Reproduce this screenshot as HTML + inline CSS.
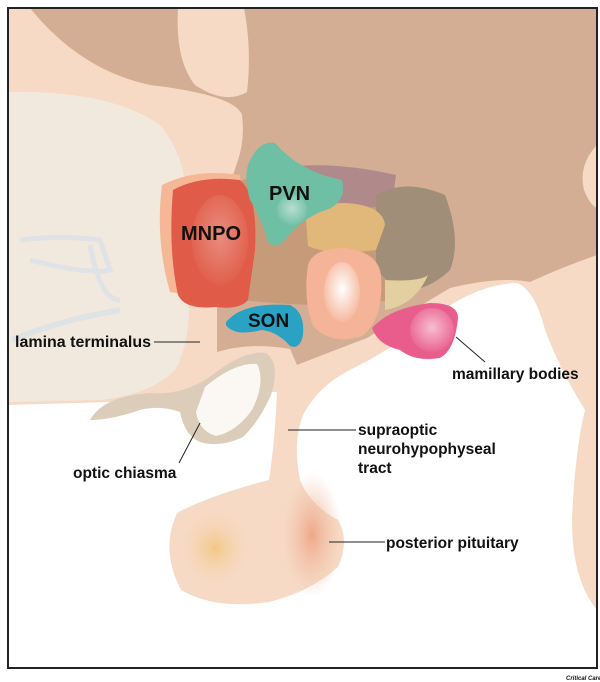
<!DOCTYPE html>
<html><head><style>
body{margin:0;background:#fff;width:600px;height:682px;overflow:hidden}
svg{position:absolute;left:0;top:0}
text{font-family:"Liberation Sans",Arial,sans-serif;font-weight:bold;fill:#111}
</style></head><body>
<svg width="600" height="682" viewBox="0 0 600 682">
<defs>
<radialGradient id="hl" cx="50%" cy="45%" r="60%"><stop offset="0" stop-color="#fff"/><stop offset="1" stop-color="#fff" stop-opacity="0"/></radialGradient>
<radialGradient id="pit1" cx="50%" cy="50%" r="50%"><stop offset="0" stop-color="#f3c784"/><stop offset="1" stop-color="#f7d9c2" stop-opacity="0"/></radialGradient>
<radialGradient id="pit2" cx="50%" cy="50%" r="50%"><stop offset="0" stop-color="#eea88a"/><stop offset="1" stop-color="#f3c3a8" stop-opacity="0"/></radialGradient>
<clipPath id="fr"><rect x="8" y="8" width="589" height="660"/></clipPath>
</defs>
<g clip-path="url(#fr)">
<rect x="8" y="8" width="589" height="660" fill="#f6dac6"/>
<!-- brown -->
<path d="M30 8 Q80 70 150 85 Q235 95 242 115 Q245 140 238 160 L225 200 L217 310 L217 352 Q250 342 290 349 L297 365 Q330 352 367 338 Q410 312 450 288 Q500 276 530 282 Q560 268 597 255 V8Z" fill="#d3ae94"/>
<!-- tongue -->
<path d="M178 8 Q175 60 195 85 Q225 105 247 92 Q252 50 244 8Z" fill="#f6dac6"/>
<path d="M597 145 Q578 165 584 190 Q590 205 597 208Z" fill="#f6dac6"/>
<!-- white regions -->
<path d="M8 405 L180 400 Q250 392 277 392 Q275 440 269 480 Q210 495 177 513 Q160 550 181 590 Q215 610 269 602 Q310 592 338 567 L338 668 H8Z" fill="#fff"/>
<path d="M338 668 L338 567 Q350 540 338 520 Q310 505 300 480 Q292 440 304 413 Q320 385 350 370 Q400 345 440 312 Q480 284 517 283 Q535 290 545 330 Q560 370 585 410 Q575 450 572 520 Q572 580 597 610 V668Z" fill="#fff"/>
<ellipse cx="215" cy="548" rx="38" ry="42" fill="url(#pit1)"/>
<ellipse cx="312" cy="535" rx="30" ry="62" fill="url(#pit2)"/>
<!-- beige left -->
<path d="M8 92 Q110 90 160 125 Q185 155 187 200 L188 290 Q192 340 175 370 Q150 395 100 400 L8 402Z" fill="#f2e9de"/>
<path d="M20 240 Q60 235 100 240 L110 270 Q90 275 30 260" fill="none" stroke="#dfe2e6" stroke-width="5"/>
<path d="M90 245 Q100 300 120 300" fill="none" stroke="#dfe2e6" stroke-width="5"/>
<path d="M12 340 Q60 320 120 310" fill="none" stroke="#e0e3e6" stroke-width="6"/>
<!-- optic chiasma -->
<path d="M90 420 Q103 396 150 393 Q185 396 215 373 Q245 350 266 353 Q281 364 271 395 Q259 422 243 437 Q220 448 200 442 Q185 436 180 412 Q160 405 140 410 Q110 420 90 420Z" fill="#dccdbb"/>
<path d="M205 387 Q235 362 257 364 Q266 382 252 410 Q236 432 216 436 Q199 431 196 412Z" fill="#fbf8f4"/>
<!-- nuclei -->
<path d="M162 185 Q195 168 240 175 L248 290 Q210 300 170 292 Q155 240 162 185Z" fill="#f5b796"/>
<path d="M242 180 Q300 172 385 190 L390 300 Q330 310 242 300Z" fill="#c69b79"/>
<path d="M280 168 Q330 160 396 175 L392 205 Q340 212 300 208Z" fill="#b08a8a"/>
<path d="M376 195 Q405 178 445 195 Q462 240 450 270 Q430 290 400 292 L376 270Z" fill="#a18e78"/>
<path d="M385 280 Q420 282 428 275 Q415 305 385 310Z" fill="#e3cfa0"/>
<path d="M306 220 Q310 203 345 203 Q383 205 385 225 L376 250 Q330 256 308 246Z" fill="#e1b77a"/>
<path d="M308 265 Q313 248 345 248 Q378 252 381 275 Q384 320 362 336 Q332 346 313 326 Q303 300 308 265Z" fill="#f5b397"/>
<ellipse cx="342" cy="292" rx="18" ry="30" fill="url(#hl)"/>
<path d="M173 190 Q200 175 240 180 Q258 195 255 250 L248 300 Q240 310 215 307 Q185 310 178 295 Q168 250 173 190Z" fill="#e05c48"/>
<ellipse cx="220" cy="240" rx="28" ry="45" fill="url(#hl)" opacity=".3"/>
<path d="M248 165 Q258 140 275 143 Q300 172 342 180 Q348 205 320 212 Q298 222 285 240 Q275 250 268 242 Q260 215 250 200 Q244 180 248 165Z" fill="#6fbfa4"/>
<ellipse cx="292" cy="210" rx="15" ry="15" fill="url(#hl)" opacity=".5"/>
<path d="M228 320 Q245 302 290 305 Q305 312 303 335 Q300 350 290 346 Q278 332 262 330 Q240 335 232 330 Q222 325 228 320Z" fill="#2aa2c4"/>
<path d="M372 328 Q390 308 430 303 Q458 303 458 318 Q455 350 440 358 Q415 362 400 350 Q378 345 372 328Z" fill="#e95d8c"/>
<ellipse cx="432" cy="330" rx="22" ry="22" fill="url(#hl)" opacity=".6"/>
</g>
<rect x="8" y="8" width="589" height="660" fill="none" stroke="#222" stroke-width="2"/>
<!-- labels -->
<text x="181" y="240" font-size="20">MNPO</text>
<text x="269" y="200" font-size="20">PVN</text>
<text x="248" y="327" font-size="19">SON</text>
<text x="15" y="347" font-size="16">lamina terminalus</text>
<line x1="154" y1="342" x2="200" y2="342" stroke="#222" stroke-width="1"/>
<text x="452" y="379" font-size="15.5">mamillary bodies</text>
<line x1="456" y1="337" x2="485" y2="362" stroke="#222" stroke-width="1"/>
<text x="73" y="478" font-size="15.5">optic chiasma</text>
<line x1="200" y1="423" x2="179" y2="463" stroke="#222" stroke-width="1"/>
<text x="358" y="435" font-size="15.5">supraoptic</text>
<text x="358" y="454" font-size="15.5">neurohypophyseal</text>
<text x="358" y="473" font-size="15.5">tract</text>
<line x1="288" y1="430" x2="356" y2="430" stroke="#222" stroke-width="1"/>
<text x="386" y="548" font-size="15.5">posterior pituitary</text>
<line x1="329" y1="542" x2="385" y2="542" stroke="#222" stroke-width="1"/>
<text x="566" y="680" font-size="6" font-weight="normal" font-style="italic">Critical Care</text>
</svg>
</body></html>
